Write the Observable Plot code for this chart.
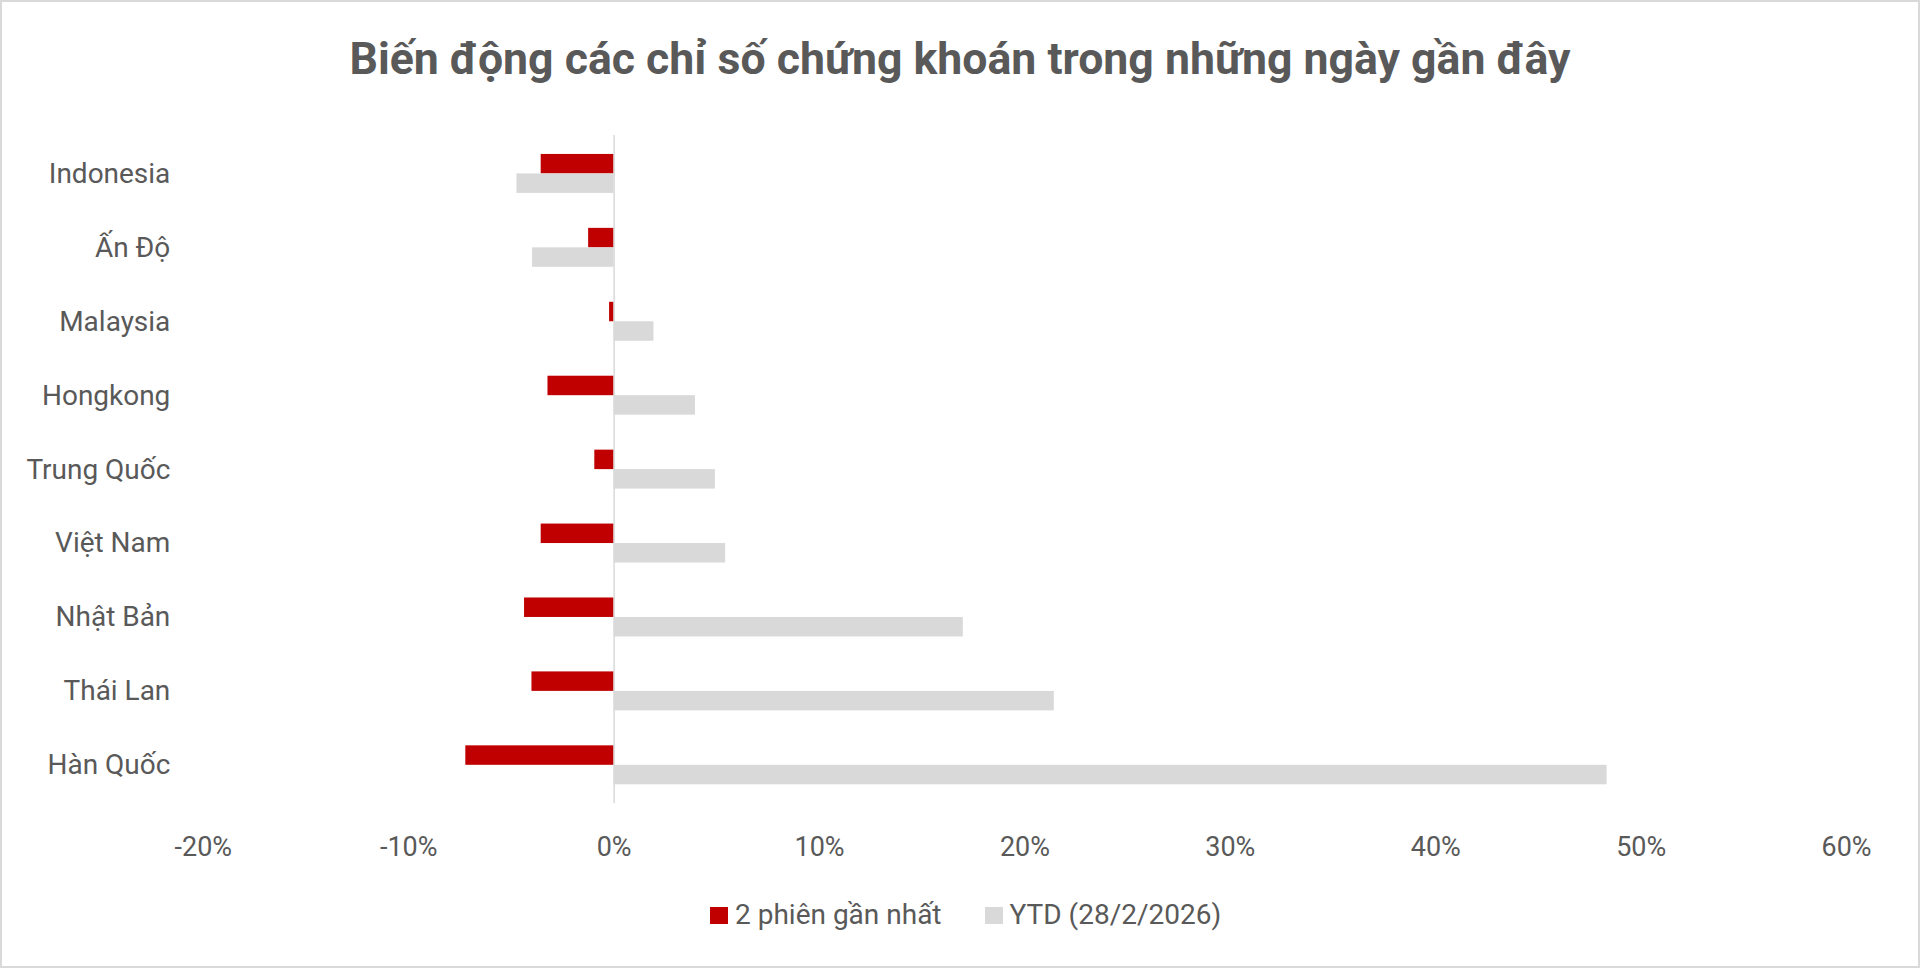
<!DOCTYPE html>
<html>
<head>
<meta charset="utf-8">
<script src="https://cdn.jsdelivr.net/npm/d3@7"></script>
<script src="https://cdn.jsdelivr.net/npm/@observablehq/plot@0.6"></script>
<style>
  html, body { margin: 0; padding: 0; background: #fff; }
  #frame { position: relative; width: 1920px; height: 968px; box-sizing: border-box; border: 2px solid #d9d9d9; overflow: hidden; font-family: Roboto, "Open Sans", sans-serif; color: #595959; }
  #title { position: absolute; left: 0; width: 1916px; top: 35px; text-align: center; font-size: 44.6px; line-height: 45px; font-weight: 700; white-space: nowrap; }
  #chart { position: absolute; left: -2px; top: 98px; }
  #legend { position: absolute; left: 708px; top: 899px; display: flex; align-items: center; font-size: 28px; line-height: 28px; white-space: nowrap; }
  .sw { width: 18px; height: 17px; margin-right: 7px; }
  .item { display: flex; align-items: center; margin-right: 43px; }
</style>
</head>
<body>
<div id="frame">
  <div id="title">Biến động các chỉ số chứng khoán trong những ngày gần đây</div>
  <div id="chart"></div>
  <div id="legend"></div>
</div>
<script>
const countries = ["Indonesia", "Ấn Độ", "Malaysia", "Hongkong", "Trung Quốc", "Việt Nam", "Nhật Bản", "Thái Lan", "Hàn Quốc"];
const seriesNames = ["2 phiên gần nhất", "YTD (28/2/2026)"];
const seriesColors = ["#c00000", "#d9d9d9"];
const twoSessions = [-0.0355, -0.0124, -0.0022, -0.0322, -0.0094, -0.0355, -0.0436, -0.0400, -0.0722];
const ytd = [-0.0473, -0.0397, 0.0194, 0.0396, 0.0493, 0.0543, 0.1700, 0.2143, 0.4834];
const xTicks = [-0.2, -0.1, 0, 0.1, 0.2, 0.3, 0.4, 0.5, 0.6];

const rows = countries.map((c, i) => ({country: c, s1: twoSessions[i], s2: ytd[i]}));

const fontSize = 27;
const plot = Plot.plot({
  width: 1920,
  height: 780,
  marginLeft: 203,
  marginRight: 72,
  marginTop: 35,
  marginBottom: 76,
  style: {fontFamily: "Roboto, 'Open Sans', sans-serif", fontSize: fontSize + "px", color: "#595959", background: "transparent"},
  x: {domain: [-0.2, 0.6], ticks: xTicks, tickFormat: d => Math.round(d * 100) + "%", label: null},
  y: {domain: countries, paddingInner: 0.475, paddingOuter: 0.2375, label: null},
  marks: [
    Plot.barX(rows, {y: "country", x: "s1", fill: seriesColors[0], insetBottom: 19.5}),
    Plot.barX(rows, {y: "country", x: "s2", fill: seriesColors[1], insetTop: 19.5}),
    Plot.ruleX([0], {stroke: "#d9d9d9", strokeWidth: 1.5}),
    Plot.axisX({ticks: xTicks, tickFormat: d => Math.round(d * 100) + "%", tickSize: 0, tickPadding: 33, fill: "#595959", fontSize: fontSize, label: null}),
    Plot.axisY({tickSize: 0, tickPadding: 33, fill: "#595959", fontSize: 28, label: null})
  ]
});
document.getElementById("chart").appendChild(plot);

const legend = document.getElementById("legend");
seriesNames.forEach((name, i) => {
  const item = document.createElement("div");
  item.className = "item";
  const sw = document.createElement("div");
  sw.className = "sw";
  sw.style.background = seriesColors[i];
  const tx = document.createElement("span");
  tx.textContent = name;
  item.appendChild(sw);
  item.appendChild(tx);
  legend.appendChild(item);
});
</script>
</body>
</html>
